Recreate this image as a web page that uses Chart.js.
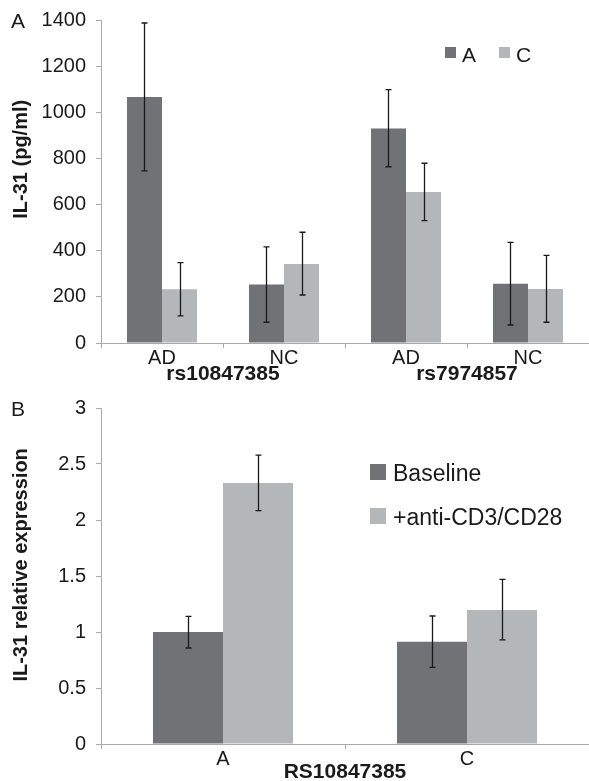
<!DOCTYPE html>
<html>
<head>
<meta charset="utf-8">
<script src="https://cdn.jsdelivr.net/npm/chart.js@4.4.1/dist/chart.umd.min.js"></script>
<style>
  body { margin: 0; background: #fff; font-family: "Liberation Sans", Arial, sans-serif; }
  #wrap { position: relative; width: 589px; height: 781px; overflow: hidden; }
  .pane { position: absolute; left: 0; width: 589px; }
  .letter { position: absolute; left: 11px; font-size: 21px; color: #1a1a1a; line-height: 1; }
</style>
</head>
<body>
<div id="wrap">
  <div class="pane" style="top:0;height:390px"><canvas id="chartA" width="589" height="390"></canvas></div>
  <div class="pane" style="top:390px;height:391px"><canvas id="chartB" width="589" height="391"></canvas></div>
  <div class="letter" style="top:10px">A</div>
  <div class="letter" style="top:398px">B</div>
</div>
<script>
// Panel A: IL-31 Serum nach Genotyp
const groupsA = ['rs10847385', 'rs7974857'];
const catsA = ['AD', 'NC', 'AD', 'NC'];
const alleleA = [1066, 254, 930, 257];
const alleleA_lo = [746, 90, 764, 78];
const alleleA_hi = [1387, 417, 1098, 436];
const alleleC = [233, 342, 654, 234];
const alleleC_lo = [118, 208, 530, 90];
const alleleC_hi = [348, 480, 779, 380];

// Panel B: relative Expression
const catsB = ['A', 'C'];
const baseline = [1.0, 0.913];
const baseline_lo = [0.857, 0.684];
const baseline_hi = [1.14, 1.143];
const stim = [2.33, 1.196];
const stim_lo = [2.083, 0.929];
const stim_hi = [2.58, 1.47];

const dunkel = '#717276';
const hell = '#b4b7ba';
const achse = '#a9a9a9';
const schrift = '"Liberation Sans", Arial, sans-serif';

// Fehlerbalken aus errLo/errHi der Datensaetze
const errorBars = {
  id: 'errorBars',
  afterDatasetsDraw(chart) {
    const ctx = chart.ctx;
    const y = chart.scales.y;
    ctx.save();
    ctx.strokeStyle = '#1a1a1a';
    ctx.lineWidth = 1.3;
    chart.data.datasets.forEach((ds, i) => {
      chart.getDatasetMeta(i).data.forEach((bar, j) => {
        const x = Math.round(bar.x) + 0.5;
        const lo = y.getPixelForValue(ds.errLo[j]);
        const hi = y.getPixelForValue(ds.errHi[j]);
        ctx.beginPath();
        ctx.moveTo(x, lo); ctx.lineTo(x, hi);
        ctx.moveTo(x - 3, lo); ctx.lineTo(x + 3, lo);
        ctx.moveTo(x - 3, hi); ctx.lineTo(x + 3, hi);
        ctx.stroke();
      });
    });
    ctx.restore();
  }
};

// eigene Legende mit festen Positionen
const boxLegend = {
  id: 'boxLegend',
  afterDraw(chart, args, o) {
    const ctx = chart.ctx;
    ctx.save();
    ctx.font = o.size + 'px ' + schrift;
    ctx.textBaseline = 'alphabetic';
    chart.data.datasets.forEach((ds, i) => {
      const bx = o.x + i * o.dx;
      const by = o.y + i * o.dy;
      ctx.fillStyle = ds.backgroundColor;
      ctx.fillRect(bx, by, o.box, o.box);
      ctx.fillStyle = '#1a1a1a';
      ctx.fillText(ds.label, bx + o.box + o.gap, by + o.box + o.base);
    });
    ctx.restore();
  }
};

// Achsentitel sitzen im Original etwas oberhalb der Mitte -> fuehrende Leerzeichen
function yAxis(max, step, title, shift) {
  return {
    min: 0, max: max,
    afterFit(s) { s.width = 101; },
    ticks: { stepSize: step, padding: 10, color: '#1a1a1a',
      font: { family: schrift, size: 20, lineHeight: 0.8 },
      callback: v => String(v) },
    grid: { drawOnChartArea: false, color: achse, tickLength: 5 },
    border: { color: achse, width: 1 },
    title: { display: true, text: '\u00a0'.repeat(shift) + title, color: '#1a1a1a', padding: { top: 9, bottom: 0 },
      font: { family: schrift, size: 20, weight: 'bold' } }
  };
}

new Chart(document.getElementById('chartA'), {
  type: 'bar',
  data: {
    labels: catsA,
    datasets: [
      { label: 'A', data: alleleA, errLo: alleleA_lo, errHi: alleleA_hi, backgroundColor: dunkel },
      { label: 'C', data: alleleC, errLo: alleleC_lo, errHi: alleleC_hi, backgroundColor: hell }
    ]
  },
  options: {
    responsive: false,
    animation: false,
    layout: { padding: { top: 20, right: 0, bottom: 0, left: 0 } },
    datasets: { bar: { categoryPercentage: 0.574, barPercentage: 1 } },
    plugins: {
      legend: { display: false },
      tooltip: { enabled: false },
      boxLegend: { x: 445, y: 47, dx: 54, dy: 0, box: 11, gap: 6, base: 4, size: 21 }
    },
    scales: {
      x: {
        afterFit(s) { s.height = 22; },
        ticks: { padding: -2, color: '#1a1a1a', font: { family: schrift, size: 20 } },
        grid: { drawOnChartArea: false, color: achse, tickLength: 5 },
        border: { color: achse, width: 1 }
      },
      x2: {
        type: 'category',
        position: 'bottom',
        labels: groupsA,
        offset: true,
        weight: 1,
        afterFit(s) { s.height = 25; },
        ticks: { padding: -3, color: '#1a1a1a', font: { family: schrift, size: 21, weight: 'bold' } },
        grid: { display: false, drawTicks: false },
        border: { display: false }
      },
      y: yAxis(1400, 200, 'IL-31 (pg/ml)', 8)
    }
  },
  plugins: [errorBars, boxLegend]
});

new Chart(document.getElementById('chartB'), {
  type: 'bar',
  data: {
    labels: catsB,
    datasets: [
      { label: 'Baseline', data: baseline, errLo: baseline_lo, errHi: baseline_hi, backgroundColor: dunkel },
      { label: '+anti-CD3/CD28', data: stim, errLo: stim_lo, errHi: stim_hi, backgroundColor: hell }
    ]
  },
  options: {
    responsive: false,
    animation: false,
    layout: { padding: { top: 18, right: 0, bottom: 0, left: 0 } },
    datasets: { bar: { categoryPercentage: 0.574, barPercentage: 1 } },
    plugins: {
      legend: { display: false },
      tooltip: { enabled: false },
      boxLegend: { x: 370, y: 74, dx: 0, dy: 44, box: 16, gap: 7, base: 1, size: 23 }
    },
    scales: {
      x: {
        afterFit(s) { s.height = 37; },
        ticks: { padding: -2, color: '#1a1a1a', font: { family: schrift, size: 20 } },
        grid: { drawOnChartArea: false, color: achse, tickLength: 5 },
        border: { color: achse, width: 1 },
        title: { display: true, text: 'RS10847385', color: '#1a1a1a', padding: { top: 0, bottom: -4 },
          font: { family: schrift, size: 21, weight: 'bold' } }
      },
      y: yAxis(3, 0.5, 'IL-31 relative expression', 4)
    }
  },
  plugins: [errorBars, boxLegend]
});
</script>
</body>
</html>
